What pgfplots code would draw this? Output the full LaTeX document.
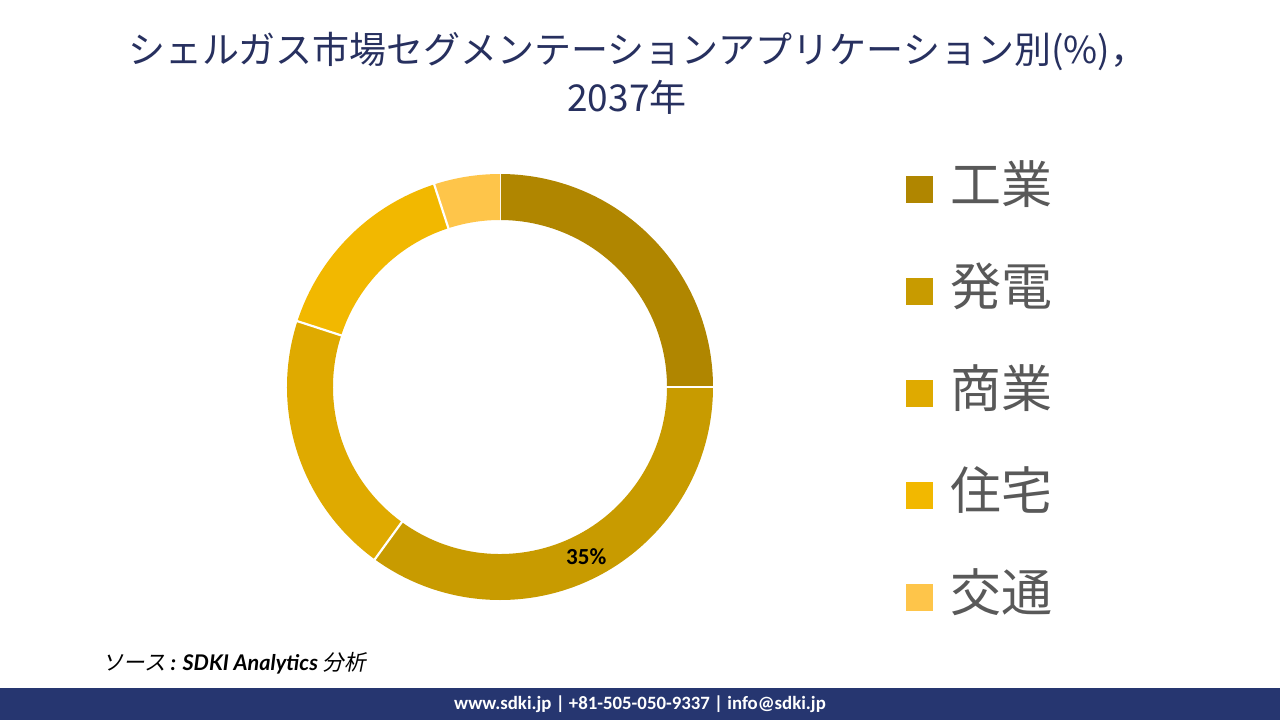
\documentclass[border=0pt]{standalone}
\usepackage{pgfplots}
\usepackage{pgfplotstable}
\pgfplotsset{compat=1.18}
\usepackage{fontspec}
\setmainfont{Carlito}
\newfontfamily\cjk{Noto Sans CJK JP}
\newfontfamily\cjkit[FakeSlant=0.2]{Noto Sans CJK JP}
\newfontfamily\lato{Lato}
\newfontfamily\carlito{Carlito}
\definecolor{c0}{HTML}{B08600}
\definecolor{c1}{HTML}{C89B00}
\definecolor{c2}{HTML}{DFAA00}
\definecolor{c3}{HTML}{F2B800}
\definecolor{c4}{HTML}{FEC54A}
\definecolor{titleblue}{HTML}{27305F}
\definecolor{footblue}{HTML}{263670}
\definecolor{leggray}{HTML}{595959}
\pgfplotstableread{
name value
工業 25
発電 35
商業 20
住宅 15
交通 5
}\piedata
\begin{document}
\begin{tikzpicture}
\begin{axis}[x=0.5pt,y=0.5pt,xmin=0,xmax=1280,ymin=0,ymax=720,
  hide axis, clip=false, scale only axis]
\path[fill=white] (axis cs:0,0) rectangle (axis cs:1280,720);
\fill[footblue] (axis cs:0,0) rectangle (axis cs:1280,32);
\node[text=white,font=\carlito\bfseries\fontsize{9.4pt}{11pt}\selectfont] at (axis cs:640,16) {www.sdki.jp | +81-505-050-9337 | info@sdki.jp};
\node[text=titleblue,font=\cjk\fontsize{18.5pt}{22pt}\selectfont] at (axis cs:638,669) {シェルガス市場セグメンテーションアプリケーション別(\%)，};
\node[text=titleblue,font=\cjk\fontsize{18.5pt}{22pt}\selectfont] at (axis cs:627,623) {2037年};
\node[anchor=west,text=black,font=\fontsize{10.8pt}{13pt}\selectfont] at (axis cs:95,57) {{\cjkit ソース} {\lato\bfseries\itshape : SDKI Analytics} {\cjkit 分析}};
\def\astart{90}
\pgfplotsforeachungrouped \i in {0,...,4}{%
  \pgfplotstablegetelem{\i}{value}\of\piedata
  \let\v=\pgfplotsretval
  \pgfplotstablegetelem{\i}{name}\of\piedata
  \let\nm=\pgfplotsretval
  \pgfmathsetmacro\aend{\astart-\v*3.6}
  \pgfmathsetmacro\amid{(\astart+\aend)/2}
  \pgfmathsetmacro\ly{531-\i*102}
  \edef\cmd{%
    \noexpand\fill[c\i] (axis cs:{500+213*cos(\astart)},{333+213*sin(\astart)}) arc[start angle=\astart, end angle=\aend, radius=106.5pt] -- (axis cs:{500+167*cos(\aend)},{333+167*sin(\aend)}) arc[start angle=\aend, end angle=\astart, radius=83.5pt] -- cycle;
    \noexpand\draw[white, line width=1.1pt] (axis cs:{500+166*cos(\astart)},{333+166*sin(\astart)}) -- (axis cs:{500+214*cos(\astart)},{333+214*sin(\astart)});
    \noexpand\fill[c\i] (axis cs:906,{\ly-13.5}) rectangle (axis cs:933,{\ly+13.5});
    \noexpand\node[anchor=west,text=leggray,font=\noexpand\cjk\noexpand\fontsize{25.5pt}{29pt}\noexpand\selectfont,inner sep=0pt] at (axis cs:950,{\ly+5}) {\nm};
  }%
  \cmd
  \ifnum\i=1
    \edef\cmd{\noexpand\node[font=\noexpand\carlito\noexpand\bfseries\noexpand\fontsize{11.5pt}{13pt}\noexpand\selectfont] at (axis cs:{500+190*cos(\amid)},{333+190*sin(\amid)}) {\v\noexpand\%};}%
    \cmd
  \fi
  \let\astart=\aend
}
\end{axis}
\end{tikzpicture}
\end{document}
